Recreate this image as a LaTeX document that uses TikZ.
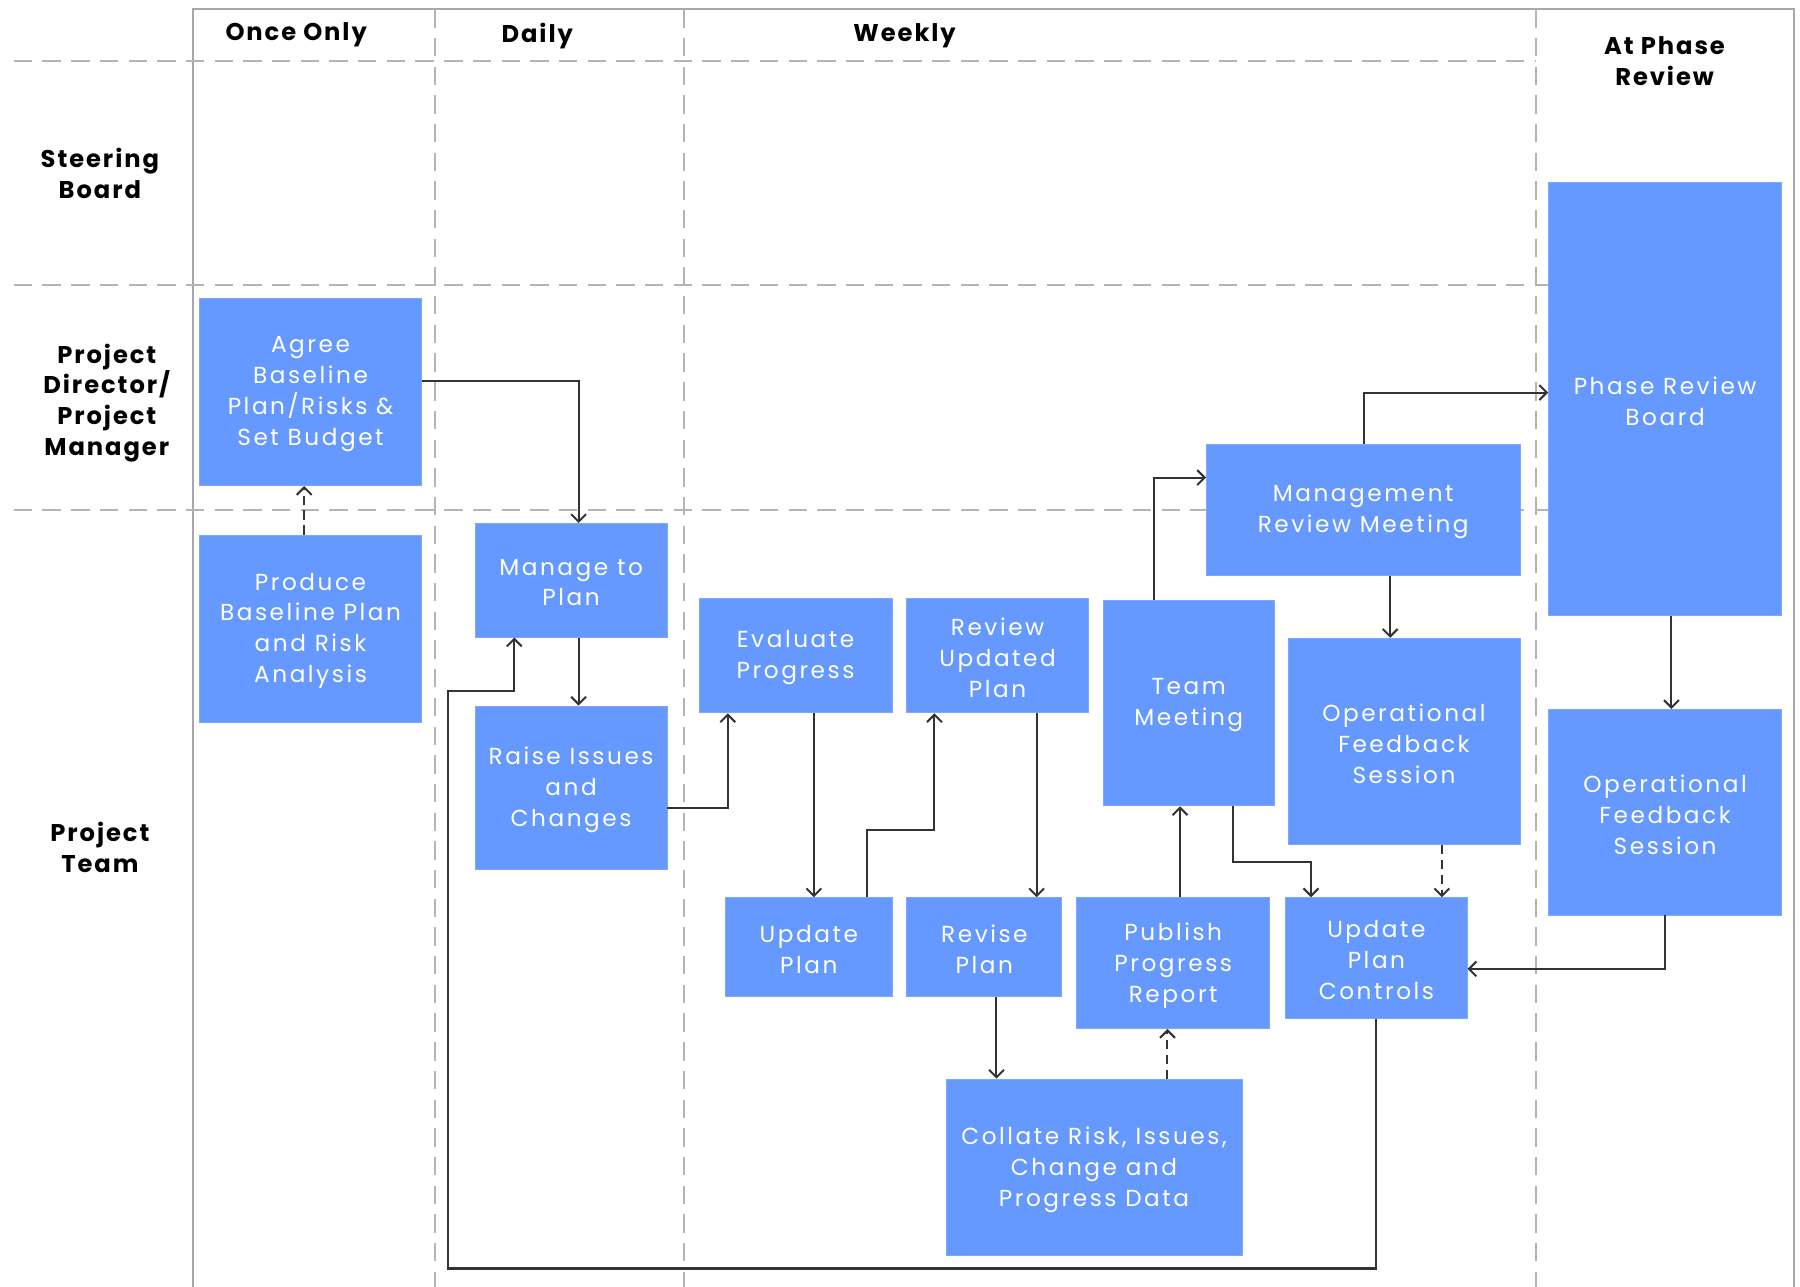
\documentclass[tikz,border=0pt]{standalone}
\usepackage{fontspec}
\setmainfont{Poppins}
\usetikzlibrary{arrows.meta,fit}

\definecolor{boxblue}{HTML}{6699FF}
\definecolor{gridgray}{HTML}{B4B4B4}
\definecolor{framegray}{HTML}{A8A8A8}
\definecolor{linkgray}{HTML}{333333}

\tikzset{
  box/.style={fill=boxblue, draw=boxblue!85!white, line width=0.4pt, inner sep=0pt},
  boxlabel/.style={text=white, align=center, inner sep=0pt, yshift=-0.04cm,
    font=\fontsize{11.5}{15.3}\selectfont\addfontfeatures{LetterSpace=11}},
  txt/.style={label={[boxlabel]center:{#1}}},
  header/.style={align=center, yshift=-0.02cm, text=black,
    font=\fontsize{12}{15.3}\selectfont\bfseries\addfontfeatures{LetterSpace=8}},
  grid/.style={gridgray, line width=0.85pt, dash pattern=on 0.32cm off 0.18cm},
  frame/.style={framegray, line width=0.85pt},
  link/.style={linkgray, line width=1pt, -{Straight Barb[length=1.3mm,width=2.6mm]}},
  dlink/.style={link, dash pattern=on 0.16cm off 0.1cm}
}

\begin{document}
\begin{tikzpicture}[x=0.02cm, y=-0.02cm]
\useasboundingbox (0,0) rectangle (1568,1121);

% swimlane grid
\draw[frame] (168,1121) -- (168,8) -- (1563,8) -- (1563,1121);
\draw[grid] (12,53) -- (1338,53);
\draw[grid] (12,248) -- (1558,248);
\draw[grid] (12,444) -- (1558,444);
\draw[grid] (379,8) -- (379,1121);
\draw[grid] (596,8) -- (596,1121);
\draw[grid] (1338,8) -- (1338,1121);

% column and lane headings
\node[header] (hOnce) at (258,29) {Once Only};
\node[header] (hDaily) at (468,30) {Daily};
\node[header] (hWeekly) at (788,30) {Weekly};
\node[header] (hPhase) at (1450,52) {At Phase\\Review};
\node[header] (hBoard) at (87,150) {Steering\\Board};
\node[header] (hPM) at (93,350) {Project\\Director/\\Project\\Manager};
\node[header] (hTeam) at (87,737) {Project\\Team};

% activities
\node[box, fit={(174,260) (367,423)}, txt={Agree\\Baseline\\Plan/Risks \&\\Set Budget}] (agree) {};
\node[box, fit={(174,466) (367,629)}, txt={Produce\\Baseline Plan\\and Risk\\Analysis}] (produce) {};
\node[box, fit={(414,456) (581,555)}, txt={Manage to\\Plan}] (manage) {};
\node[box, fit={(414,615) (581,757)}, txt={Raise Issues\\and\\Changes}] (raise) {};
\node[box, fit={(609,521) (777,621)}, txt={Evaluate\\Progress}] (evaluate) {};
\node[box, fit={(790,521) (948,621)}, txt={Review\\Updated\\Plan}] (review) {};
\node[box, fit={(961,523) (1110,702)}, txt={Team\\Meeting}] (team) {};
\node[box, fit={(1051,387) (1324,501)}, txt={Management\\Review Meeting}] (mgmt) {};
\node[box, fit={(1122,556) (1324,736)}, txt={Operational\\Feedback\\Session}] (opfb) {};
\node[box, fit={(1349,159) (1552,536)}, txt={Phase Review\\Board}] (prb) {};
\node[box, fit={(1349,618) (1552,797)}, txt={Operational\\Feedback\\Session}] (opfbp) {};
\node[box, fit={(632,782) (777,868)}, txt={Update\\Plan}] (updplan) {};
\node[box, fit={(790,782) (925,868)}, txt={Revise\\Plan}] (revise) {};
\node[box, fit={(938,782) (1106,896)}, txt={Publish\\Progress\\Report}] (publish) {};
\node[box, fit={(1120,782) (1278,887)}, txt={Update\\Plan\\Controls}] (upc) {};
\node[box, fit={(824,940) (1082,1094)}, txt={Collate Risk, Issues,\\Change and\\Progress Data}] (collate) {};

% flows
\draw[link] (agree.east |- 0,332) -| (manage.north -| 504,0);
\draw[dlink] (produce.north -| 265,0) -- (agree.south -| 265,0);
\draw[link] (manage.south -| 504,0) -- (raise.north -| 504,0);
\draw[link] (upc.south -| 1199,0) -- (1199,1105) -- (390,1105) -- (390,602) -- (448,602) -- (manage.south -| 448,0);
\draw[link] (raise.east |- 0,704) -| (evaluate.south -| 634,0);
\draw[link] (evaluate.south -| 709,0) -- (updplan.north -| 709,0);
\draw[link] (updplan.north -| 755,0) |- (814,723) -- (review.south -| 814,0);
\draw[link] (review.south -| 903,0) -- (revise.north -| 903,0);
\draw[link] (revise.south -| 868,0) -- (collate.north -| 868,0);
\draw[dlink] (collate.north -| 1017,0) -- (publish.south -| 1017,0);
\draw[link] (publish.north -| 1028,0) -- (team.south -| 1028,0);
\draw[link] (team.north -| 1005,0) |- (mgmt.west |- 0,416);
\draw[link] (team.south -| 1074,0) |- (1142,751) -- (upc.north -| 1142,0);
\draw[link] (mgmt.south -| 1211,0) -- (opfb.north -| 1211,0);
\draw[dlink] (opfb.south -| 1256,0) -- (upc.north -| 1256,0);
\draw[link] (mgmt.north -| 1188,0) |- (prb.west |- 0,342);
\draw[link] (prb.south -| 1456,0) -- (opfbp.north -| 1456,0);
\draw[link] (opfbp.south -| 1450,0) |- (upc.east |- 0,844);
\end{tikzpicture}
\end{document}
